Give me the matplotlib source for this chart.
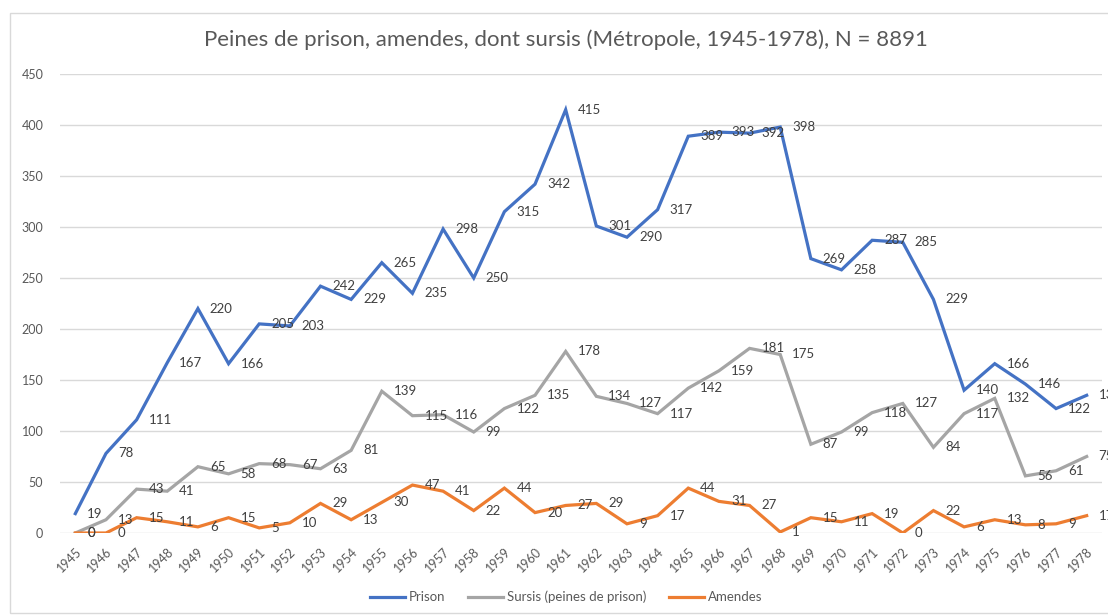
"""Peines de prison, amendes, dont sursis (Métropole, 1945-1978) - line chart with data labels."""

import matplotlib as mpl
import matplotlib.pyplot as plt
from matplotlib.patches import Rectangle

# Excel-like office palette
C_PRISON = "#4472C4"
C_SURSIS = "#A5A5A5"
C_AMENDES = "#ED7D31"
C_TEXT = "#595959"
C_LABEL = "#404040"
C_GRID = "#D9D9D9"

years = list(range(1945, 1979))

prison = [19, 78, 111, 167, 220, 166, 205, 203, 242, 229, 265, 235, 298, 250, 315, 342, 415,
          301, 290, 317, 389, 393, 392, 398, 269, 258, 287, 285, 229, 140, 166, 146, 122, 135]
sursis = [0, 13, 43, 41, 65, 58, 68, 67, 63, 81, 139, 115, 116, 99, 122, 135, 178,
          134, 127, 117, 142, 159, 181, 175, 87, 99, 118, 127, 84, 117, 132, 56, 61, 75]
amendes = [0, 0, 15, 11, 6, 15, 5, 10, 29, 13, 30, 47, 41, 22, 44, 20, 27,
           29, 9, 17, 44, 31, 27, 1, 15, 11, 19, 0, 22, 6, 13, 8, 9, 17]

series_names = ["Prison", "Sursis (peines de prison)", "Amendes"]
y_ticks = [0, 50, 100, 150, 200, 250, 300, 350, 400, 450]
title = "Peines de prison, amendes, dont sursis (Métropole, 1945-1978), N = 8891"


def configure_matplotlib() -> None:
    mpl.rcParams.update({
        "font.family": ["Lato", "DejaVu Sans"],
        "axes.spines.top": False,
        "axes.spines.right": False,
        "axes.spines.left": False,
        "axes.spines.bottom": False,
    })


def main() -> None:
    configure_matplotlib()
    fig = plt.figure(figsize=(11.08, 6.15), dpi=100)
    ax = fig.add_axes([60 / 1108, 1 - 533 / 615, 1042 / 1108, 459 / 615])

    # chart frame
    fig.patches.append(Rectangle((10 / 1108, 2 / 615), 1.2, 600 / 615, transform=fig.transFigure,
                                 fill=False, edgecolor="#D9D9D9", linewidth=1.0))

    x = list(range(len(years)))
    data = [prison, sursis, amendes]
    colors = [C_PRISON, C_SURSIS, C_AMENDES]
    for vals, col, name in zip(data, colors, series_names):
        ax.plot(x, vals, color=col, linewidth=2.3, label=name, solid_joinstyle="miter", zorder=3)
        for xi, v in zip(x, vals):
            ax.annotate(str(v), (xi, v), xytext=(12, 0), textcoords="offset pixels",
                        ha="left", va="center", fontsize=9.5, color=C_LABEL, zorder=4,
                        annotation_clip=False)

    ax.set_xlim(-0.5, len(years) - 0.5)
    ax.set_ylim(0, 450)
    ax.set_yticks(y_ticks)
    ax.set_yticklabels([str(t) for t in y_ticks])
    ax.set_xticks(x)
    ax.set_xticklabels([str(yr) for yr in years], rotation=45, ha="right", va="top",
                       rotation_mode="anchor")
    ax.tick_params(axis="both", length=0, colors=C_TEXT, labelsize=9)
    ax.tick_params(axis="y", pad=12)
    ax.tick_params(axis="x", pad=9)
    ax.grid(axis="y", color=C_GRID, linewidth=1.0)
    ax.set_axisbelow(True)

    fig.text(566 / 1108, 1 - 40 / 615, title, ha="center", va="center", fontsize=16, color=C_TEXT)

    fig.legend(loc="center", bbox_to_anchor=(566 / 1108, 1 - 597 / 615), ncol=3, frameon=False,
               fontsize=9.5, handlelength=2.65, handletextpad=0.3, columnspacing=1.7,
               labelcolor=C_TEXT)

    fig.savefig("out.png", dpi=100)
    plt.close(fig)


if __name__ == "__main__":
    main()
